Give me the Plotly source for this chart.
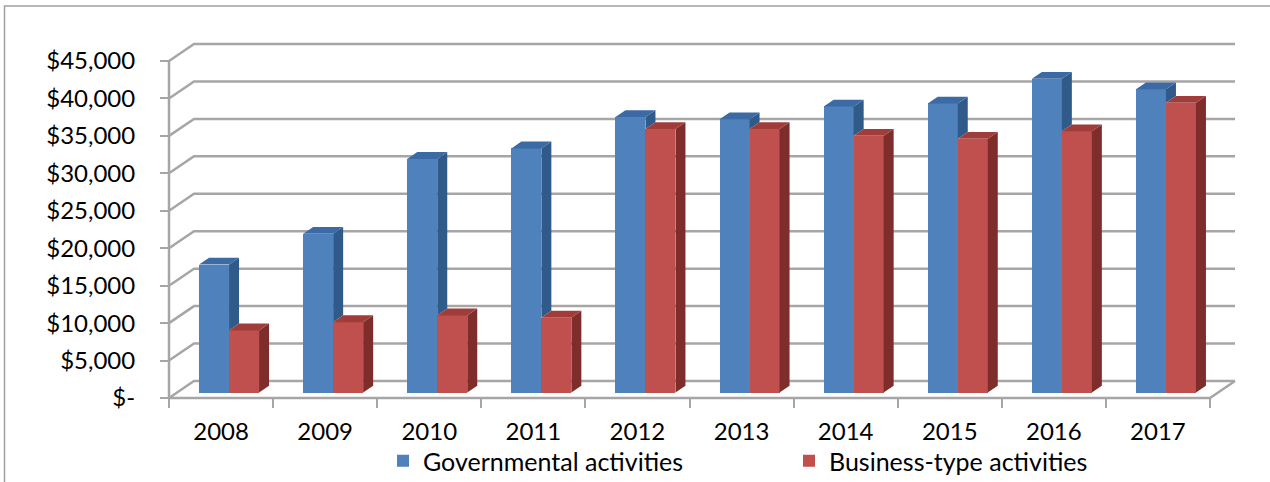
import plotly.graph_objects as go

# ---- data -------------------------------------------------------------
years = ["2008", "2009", "2010", "2011", "2012", "2013", "2014", "2015", "2016", "2017"]
governmental = [17100, 21200, 31200, 32600, 36800, 36500, 38200, 38600, 41900, 40500]
business = [8300, 9400, 10300, 10000, 35200, 35200, 34300, 33900, 34900, 38700]
tick_values = [0, 5000, 10000, 15000, 20000, 25000, 30000, 35000, 40000, 45000]
tick_labels = ["$-", "$5,000", "$10,000", "$15,000", "$20,000", "$25,000",
               "$30,000", "$35,000", "$40,000", "$45,000"]

# ---- geometry of the oblique "3-D" view (pixels) ---------------------
W, H = 1270, 482
AXIS_X_PX = 169          # front vertical axis
CAT_PX = 104.1           # width of one category on the front edge
ZERO_Y_PX = 398          # front floor edge
PX_PER_USD = 337 / 45000
DEPTH_DX_PX = 25         # floor depth, horizontal component
DEPTH_DY_PX = 17         # floor depth, vertical component

dxu = DEPTH_DX_PX / CAT_PX            # depth offset in x units
dyu = DEPTH_DY_PX / PX_PER_USD        # depth offset in y units

FRONT_F, DEPTH_F = 0.32, 0.40          # bar front plane and bar depth (fraction of floor)
BAR_W = 30 / CAT_PX

PLOT_L, PLOT_R = AXIS_X_PX - 10, 1245
PLOT_T, PLOT_B = 28, 412
xmin = -0.5 - (AXIS_X_PX - PLOT_L) / CAT_PX
xmax = -0.5 + (PLOT_R - AXIS_X_PX) / CAT_PX
ymax = (ZERO_Y_PX - PLOT_T) / PX_PER_USD
ymin = -(PLOT_B - ZERO_Y_PX) / PX_PER_USD

GRID = "#A6A6A6"
FAMILY = "Lato, Calibri, Arial, sans-serif"
AXIS_FONT = dict(family=FAMILY, size=24, color="#000000")
LEGEND_FONT = dict(family=FAMILY, size=25, color="#000000")

series = [
    dict(name="Governmental activities", values=governmental, offset=-BAR_W,
         front="#4F81BD", top="#3C6AA4", side="#2F5A8A"),
    dict(name="Business-type activities", values=business, offset=0.0,
         front="#C0504D", top="#A03D3A", side="#7E2D2A"),
]

fig = go.Figure()

# front faces: ordinary bars lifted onto the floor plane
for s in series:
    fig.add_trace(go.Bar(
        x=[i + FRONT_F * dxu + s["offset"] + BAR_W / 2 for i in range(len(years))],
        y=s["values"], base=FRONT_F * dyu, width=BAR_W,
        marker=dict(color=s["front"], line=dict(width=0)),
        name=s["name"], hoverinfo="skip",
    ))

# side and top faces
ddx, ddy = DEPTH_F * dxu, DEPTH_F * dyu
for k, s in enumerate(series):
    sx, sy, tx, ty = [], [], [], []
    for i, v in enumerate(s["values"]):
        xl = i + FRONT_F * dxu + s["offset"]
        xr = xl + BAR_W
        b0 = FRONT_F * dyu
        top = b0 + v
        # part of the right side hidden by the neighbouring bar in front of it
        lower = b0
        if k + 1 < len(series):
            lower = b0 + min(v, series[k + 1]["values"][i])
        sx += [xr, xr + ddx, xr + ddx, xr, xr, None]
        sy += [lower, lower + ddy, top + ddy, top, lower, None]
        tx += [xl, xr, xr + ddx, xl + ddx, xl, None]
        ty += [top, top, top + ddy, top + ddy, top, None]
    fig.add_trace(go.Scatter(x=sx, y=sy, mode="lines", fill="toself",
                             fillcolor=s["side"], line=dict(width=0),
                             showlegend=False, hoverinfo="skip"))
    fig.add_trace(go.Scatter(x=tx, y=ty, mode="lines", fill="toself",
                             fillcolor=s["top"], line=dict(width=0),
                             showlegend=False, hoverinfo="skip"))

# walls and floor outline, drawn beneath the bars
x0, x1 = -0.5, len(years) - 0.5
shapes = []
for v in tick_values:
    shapes.append(dict(
        type="path", xref="x", yref="y", layer="below",
        path=f"M{x0},{v} L{x0 + dxu},{v + dyu} L{x1 + dxu},{v + dyu}",
        line=dict(color=GRID, width=2.5)))
shapes.append(dict(type="path", xref="x", yref="y", layer="below",
                   path=f"M{x0},{tick_values[-1]} L{x0},0 L{x1},0 L{x1 + dxu},{dyu}",
                   line=dict(color=GRID, width=2.5)))


# outer chart border
def px_to_paper(px, py):
    return ((px - PLOT_L) / (PLOT_R - PLOT_L), (PLOT_B - py) / (PLOT_B - PLOT_T))


fx0, fy0 = px_to_paper(4.5, 6)
fx1, fy1 = px_to_paper(W + 20, H + 20)
shapes.append(dict(type="rect", xref="paper", yref="paper", layer="above",
                   x0=fx0, y0=fy1, x1=fx1, y1=fy0,
                   line=dict(color="#A0A0A0", width=1.5), fillcolor="rgba(0,0,0,0)"))

fig.update_layout(
    width=W, height=H,
    margin=dict(l=PLOT_L, r=W - PLOT_R, t=PLOT_T, b=H - PLOT_B, autoexpand=False),
    paper_bgcolor="white", plot_bgcolor="white",
    barmode="overlay", bargap=0,
    font=AXIS_FONT,
    shapes=shapes,
    showlegend=True,
    legend=dict(orientation="h", xref="container", yref="container",
                x=383 / W, y=1 - 461 / H, xanchor="left", yanchor="middle",
                entrywidth=361, entrywidthmode="pixels",
                font=LEGEND_FONT, bgcolor="rgba(0,0,0,0)", traceorder="normal"),
    xaxis=dict(range=[xmin, xmax], anchor="free",
               position=(0 - ymin) / (ymax - ymin),
               tickmode="array", tickvals=list(range(len(years))), ticktext=years,
               ticks="", showgrid=False, zeroline=False, showline=False,
               ticklabelstandoff=17,
               minor=dict(tickmode="array",
                          tickvals=[i - 0.5 for i in range(len(years) + 1)],
                          ticks="outside", ticklen=9, tickcolor=GRID, tickwidth=2,
                          showgrid=False),
               fixedrange=True),
    yaxis=dict(range=[ymin, ymax], anchor="free",
               position=(x0 - xmin) / (xmax - xmin),
               tickmode="array", tickvals=tick_values, ticktext=tick_labels,
               ticks="outside", ticklen=9, tickcolor=GRID, tickwidth=2,
               showgrid=False, zeroline=False, showline=False,
               ticklabelstandoff=20, fixedrange=True),
)

fig.write_html("out.html")
